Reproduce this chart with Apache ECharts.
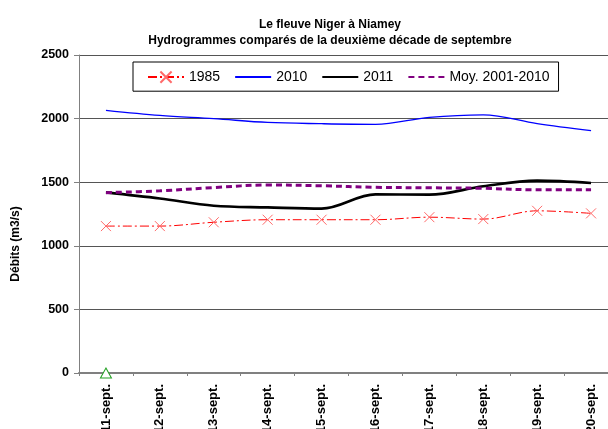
<!DOCTYPE html>
<html>
<head>
<meta charset="utf-8">
<script src="https://cdn.jsdelivr.net/npm/echarts@6/dist/echarts.min.js"></script>
<style>
  html, body { margin: 0; padding: 0; background: #fff; }
  #chart { width: 608px; height: 429px; }
</style>
</head>
<body>
<div id="chart"></div>
<script>
// categories and series (m3/s)
const days = ['11-sept.', '12-sept.', '13-sept.', '14-sept.', '15-sept.', '16-sept.', '17-sept.', '18-sept.', '19-sept.', '20-sept.'];
const debits1985 = [1155, 1155, 1185, 1205, 1205, 1205, 1225, 1210, 1275, 1255];
const debits2010 = [2065, 2025, 2000, 1970, 1960, 1955, 2010, 2030, 1960, 1905];
const debits2011 = [1420, 1372, 1315, 1302, 1292, 1404, 1402, 1468, 1512, 1494];
const moyenne = [1418, 1432, 1458, 1478, 1472, 1460, 1456, 1452, 1440, 1440];
const autre = [0]; // green triangle, first day only
const yTicks = [0, 500, 1000, 1500, 2000, 2500];

const FONT = '"Liberation Sans", Arial, sans-serif';
const chart = echarts.init(document.getElementById('chart'));

// line-only legend entries (no marker)
const noMarker = (name) => ({ name: name, itemStyle: { opacity: 0 } });

chart.setOption({
  backgroundColor: '#fff',
  animation: false,
  textStyle: { fontFamily: FONT },
  title: {
    text: 'Le fleuve Niger à Niamey\nHydrogrammes comparés de la deuxième décade de septembre',
    left: 325,
    top: 12,
    textAlign: 'center',
    textStyle: { fontSize: 12, fontWeight: 'bold', color: '#000', lineHeight: 16, fontFamily: FONT }
  },
  legend: {
    data: ['1985', noMarker('2010'), noMarker('2011'), noMarker('Moy. 2001-2010')],
    left: 133,
    top: 62,
    orient: 'horizontal',
    itemWidth: 36,
    itemHeight: 14,
    itemGap: 14,
    padding: [7, 9, 6, 14],
    borderColor: '#000',
    borderWidth: 1,
    borderRadius: 0,
    backgroundColor: '#fff',
    textStyle: { fontSize: 14, color: '#000', fontFamily: FONT }
  },
  graphic: [{
    type: 'text',
    x: 16,
    y: 244,
    rotation: Math.PI / 2,
    style: {
      text: 'Débits (m3/s)',
      font: 'bold 12px ' + FONT,
      fill: '#000',
      align: 'center',
      verticalAlign: 'middle'
    }
  }],
  grid: { left: 79, right: -10, top: 55, bottom: 56, containLabel: false, outerBoundsMode: 'none' },
  xAxis: {
    type: 'category',
    data: days,
    boundaryGap: true,
    axisLine: { lineStyle: { color: '#808080', width: 2 } },
    axisTick: { show: true, length: 3, lineStyle: { color: '#808080' } },
    axisLabel: { rotate: 90, margin: 11, fontSize: 13, fontWeight: 'bold', color: '#000', fontFamily: FONT },
    splitLine: { show: false }
  },
  yAxis: {
    type: 'value',
    min: yTicks[0],
    max: yTicks[yTicks.length - 1],
    interval: 500,
    axisLine: { show: true, lineStyle: { color: '#808080', width: 1 } },
    axisTick: { show: true, length: 5, lineStyle: { color: '#808080' } },
    axisLabel: {
      fontSize: 12.5, fontWeight: 'bold', color: '#000', margin: 10, fontFamily: FONT,
      formatter: (v) => String(v)
    },
    splitLine: { show: true, lineStyle: { color: '#555', width: 1 } }
  },
  series: [
    {
      name: '1985',
      type: 'line',
      data: debits1985,
      smooth: 0.35,
      symbol: 'path://M0,0L10,10M10,0L0,10',
      symbolSize: 10,
      itemStyle: { color: 'none', borderColor: '#ff6a6a', borderWidth: 1 },
      lineStyle: { color: '#ff0000', width: 1, type: [9, 3, 2, 3] }
    },
    {
      name: '2010',
      type: 'line',
      data: debits2010,
      smooth: 0.35,
      symbol: 'none',
      itemStyle: { color: '#0000ff' },
      lineStyle: { color: '#0000ff', width: 1.3 }
    },
    {
      name: '2011',
      type: 'line',
      data: debits2011,
      smooth: 0.35,
      symbol: 'none',
      itemStyle: { color: '#000' },
      lineStyle: { color: '#000', width: 2.6 }
    },
    {
      name: 'Moy. 2001-2010',
      type: 'line',
      data: moyenne,
      smooth: 0.35,
      symbol: 'none',
      itemStyle: { color: '#800080' },
      lineStyle: { color: '#800080', width: 3, type: [6, 4] }
    },
    {
      name: 'autre',
      type: 'line',
      data: autre,
      symbol: 'triangle',
      symbolSize: [11, 10],
      showSymbol: true,
      z: 5,
      itemStyle: { color: '#fff', borderColor: '#22a022', borderWidth: 1 },
      lineStyle: { width: 0 }
    }
  ]
});
</script>
</body>
</html>
